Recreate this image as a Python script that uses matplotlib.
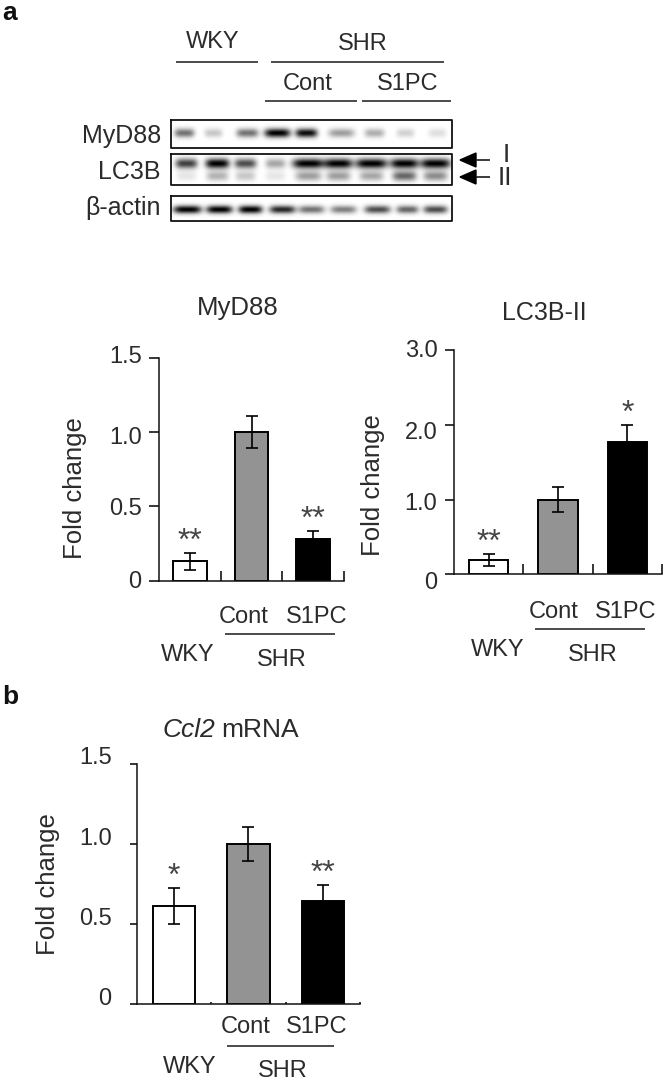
import numpy as np
import matplotlib
matplotlib.use("Agg")
import matplotlib.pyplot as plt
from matplotlib.patches import Polygon
from matplotlib.transforms import ScaledTranslation

plt.rcParams["font.family"] = ["Liberation Sans", "DejaVu Sans"]

W, H = 666, 1083
TEXT = "#2b2b2b"

# bar values: WKY, SHR Cont, SHR S1PC
myd88_vals = [0.13, 1.0, 0.283]
myd88_errs = [0.057, 0.11, 0.053]
lc3b_vals = [0.195, 1.0, 1.77]
lc3b_errs = [0.08, 0.165, 0.23]
ccl2_vals = [0.615, 1.0, 0.647]
ccl2_errs = [0.112, 0.107, 0.10]
bar_colors = ["white", "#939393", "black"]

myd88_ticks = [0, 0.5, 1.0, 1.5]
myd88_labels = ["0", "0.5", "1.0", "1.5"]
lc3b_ticks = [0, 1.0, 2.0, 3.0]
lc3b_labels = ["0", "1.0", "2.0", "3.0"]

# blot bands, one value per lane: centre, darkness, half width
myd88_lane_x = [184, 213, 247, 277, 306, 341, 374, 405, 437]
myd88_dark = [0.55, 0.22, 0.55, 1.0, 0.95, 0.38, 0.32, 0.18, 0.13]
myd88_width = [10, 9, 11, 13, 11, 13, 10, 9, 9]
lc3b1_lane_x = [186, 217, 245, 275, 308, 338, 371, 404, 435]
lc3b1_dark = [0.75, 1.0, 0.7, 0.35, 1.0, 1.0, 1.0, 1.0, 1.0]
lc3b1_width = [11, 12, 11, 10, 16, 14, 16, 14, 15]
lc3b2_dark = [0.1, 0.3, 0.22, 0.1, 0.38, 0.38, 0.35, 0.6, 0.45]
lc3b2_width = [10, 11, 10, 10, 13, 12, 12, 12, 12]
actin_lane_x = [187, 219, 250, 282, 311, 343, 377, 407, 435]
actin_dark = [1.0, 1.0, 1.0, 0.85, 0.55, 0.5, 0.7, 0.6, 0.7]
actin_width = [14, 13, 12, 13, 13, 13, 13, 11, 12]

fig = plt.figure(figsize=(W / 100, H / 100), dpi=100)

# overlay in picture pixels for the hand placed labels
bg = fig.add_axes([0, 0, 1, 1])
bg.set_xlim(0, W)
bg.set_ylim(H, 0)
bg.axis("off")


def label(x, y, s, size=17, **kw):
    bg.text(x, y + 1.5, s, fontsize=size, color=TEXT, ha=kw.pop("ha", "center"), va="center", **kw)


def rule(x0, x1, y, lw=1.1):
    bg.plot([x0, x1], [y, y], color="#1a1a1a", lw=lw, solid_capstyle="butt")


def band_row(row, xs, y0, darks, widths, sigma):
    """add one row of blurred bands to a blot image"""
    yy, xx = np.mgrid[row[0]:row[1], row[2]:row[3]]
    out = np.zeros(xx.shape)
    for x, d, w in zip(xs, darks, widths):
        out += d * np.exp(-np.abs((xx - x) / w) ** 4) * np.exp(-((yy - y0) / sigma) ** 2)
    return out


def blot(y0, y1, rows):
    x0, x1 = 171, 452
    box = (y0, y1, x0, x1)
    dark = np.zeros((y1 - y0, x1 - x0))
    for xs, yc, darks, widths, sigma in rows:
        dark += band_row(box, xs, yc, darks, widths, sigma)
    bg.imshow(1 - np.clip(dark, 0, 1), cmap="gray", vmin=0, vmax=1, extent=(x0, x1, y1, y0),
              aspect="auto", interpolation="bilinear", zorder=1)
    bg.plot([x0, x1, x1, x0, x0], [y0, y0, y1, y1, y0], color="#111111", lw=1.3, zorder=2)


def bar_chart(rect, ylim, vals, errs, ticks, tick_labels, tick_dy, tick_len, pad, xtick_len, width):
    x0, y_top, x1, y_zero = rect
    ax = fig.add_axes([x0 / W, 1 - y_zero / H, (x1 - x0) / W, (y_zero - y_top) / H])
    ax.patch.set_alpha(0)
    xs = np.arange(len(vals))
    ax.bar(xs, vals, width=width, color=bar_colors, edgecolor="black", linewidth=1.4, zorder=2)
    ax.errorbar(xs, vals, yerr=errs, fmt="none", ecolor="black", elinewidth=1.2,
                capsize=4, capthick=1.2, zorder=3)
    ax.set_xlim(-0.5, 2.5)
    ax.set_ylim(*ylim)
    ax.set_xticks([0.5, 1.5, 2.5])
    ax.set_xticklabels([])
    ax.set_yticks(ticks)
    ax.set_yticklabels(tick_labels, fontsize=17, color=TEXT)
    ax.tick_params(axis="y", length=tick_len, width=1.1, pad=pad)
    ax.tick_params(axis="x", direction="in", length=xtick_len, width=1.1)
    for side in ["top", "right"]:
        ax.spines[side].set_visible(False)
    for side in ["left", "bottom"]:
        ax.spines[side].set_linewidth(1.1)
        ax.spines[side].set_color("#111111")
    for lab, dy in zip(ax.get_yticklabels(), tick_dy):
        lab.set_transform(lab.get_transform() + ScaledTranslation(0, dy / 100, fig.dpi_scale_trans))
    return ax


def stars(ax, idx, vals, errs, s, off):
    ax.annotate(s, (idx, vals[idx] + errs[idx]), xytext=(0, off), textcoords="offset points",
                ha="center", va="center", fontsize=23, color="#444444")


# panel a blots
bg.text(10, 13, "a", fontsize=19, fontweight="bold", color="#111111", ha="center", va="center")
label(213, 40, "WKY")
label(363, 42, "SHR")
label(308, 82, "Cont")
label(408, 83, "S1PC")
rule(176, 258, 62)
rule(271, 444, 62)
rule(265, 357, 100.5)
rule(362, 451, 100.5)

blot(120, 148, [(myd88_lane_x, 132.5, myd88_dark, myd88_width, 4.5)])
blot(154, 185, [(lc3b1_lane_x, 163, lc3b1_dark, lc3b1_width, 5),
                (lc3b1_lane_x, 175.5, lc3b2_dark, lc3b2_width, 5)])
blot(196, 221, [(actin_lane_x, 209, actin_dark, actin_width, 4)])

label(161, 134.5, "MyD88", size=18, ha="right")
label(161, 170.5, "LC3B", size=18, ha="right")
label(161, 206.5, "β-actin", size=18, ha="right")

for yc in [160, 177]:
    bg.add_patch(Polygon([(460, yc), (476, yc - 7), (476, yc + 7)], closed=True, color="black"))
    rule(476, 490, yc, lw=1.2)
label(506, 153.5, "I", size=19)
label(505, 176.5, "II", size=19)

# panel a bars
ax1 = bar_chart((159, 357.7, 344, 580.7), (0, 1.5), myd88_vals, myd88_errs, myd88_ticks, myd88_labels,
                [1, 0, -3, 3], 7, 5.5, 7, 0.55)
stars(ax1, 0, myd88_vals, myd88_errs, "**", 8)
stars(ax1, 2, myd88_vals, myd88_errs, "**", 8)
label(238, 306.5, "MyD88", size=18.5)
label(75, 486.5, "Fold change", size=18.5, rotation=90)
label(244, 615.5, "Cont")
label(317, 615.5, "S1PC")
rule(225, 335, 634)
label(188, 653.5, "WKY")
label(282, 658.5, "SHR")

ax2 = bar_chart((454, 350, 662, 574.3), (0, 3.0), lc3b_vals, lc3b_errs, lc3b_ticks, lc3b_labels,
                [-6, -2, -6, 1.5], 6.5, 5.5, 7, 0.57)
stars(ax2, 0, lc3b_vals, lc3b_errs, "**", 8)
stars(ax2, 2, lc3b_vals, lc3b_errs, "*", 8)
label(544, 311.5, "LC3B-II", size=18)
label(373, 483.5, "Fold change", size=18.5, rotation=90)
label(554, 610.5, "Cont")
label(626, 610.5, "S1PC")
rule(535, 645, 629)
label(498, 648.5, "WKY")
label(593, 653.5, "SHR")

# panel b
bg.text(10, 697, "b", fontsize=19, fontweight="bold", color="#111111", ha="center", va="center")
ax3 = bar_chart((136.7, 764, 360, 1004.3), (0, 1.5), ccl2_vals, ccl2_errs, myd88_ticks, myd88_labels,
                [8, 8, 8, 8], 5, 13, 1.5, 0.57)
stars(ax3, 0, ccl2_vals, ccl2_errs, "*", 8)
stars(ax3, 2, ccl2_vals, ccl2_errs, "**", 8)
label(215, 728.5, "Ccl2", size=19, ha="right", fontstyle="italic")
label(221, 728.5, "mRNA", size=19, ha="left")
label(48, 882.5, "Fold change", size=18.5, rotation=90)
label(246, 1025.5, "Cont")
label(317, 1025.5, "S1PC")
rule(227, 334, 1046)
label(190, 1065.5, "WKY")
label(283, 1069.5, "SHR")

fig.savefig("out.png", dpi=100)
